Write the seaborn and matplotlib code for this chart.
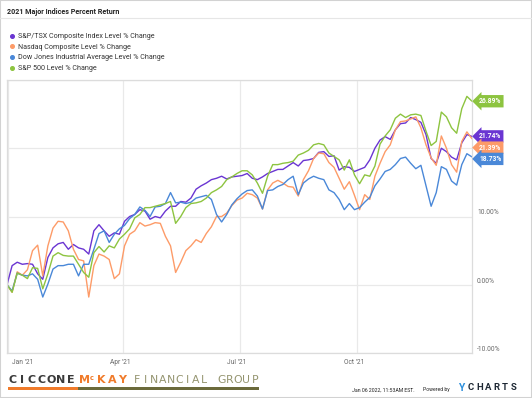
import matplotlib.pyplot as plt
import matplotlib.transforms as mtransforms
import numpy as np
import pandas as pd
import seaborn as sns
from matplotlib.lines import Line2D
from matplotlib.patches import Rectangle

# one reading every 4 days, Dec 31 2020 -> Dec 30 2021 (92 points)
dates = pd.date_range("2020-12-31", "2021-12-30", freq="4D")

series_names = [
    "S&P/TSX Composite Index Level % Change",
    "Nasdaq Composite Level % Change",
    "Dow Jones Industrial Average Level % Change",
    "S&P 500 Level % Change",
]

tsx = [0.0, 2.8, 3.3, 3.0, 3.1, 3.0, 1.6, 0.8, 4.0, 5.4,
       6.0, 6.2, 5.2, 5.9, 5.4, 5.2, 4.5, 7.9, 8.8, 7.9,
       7.1, 7.6, 7.4, 9.3, 10.0, 10.3, 11.0, 10.8, 9.6, 10.0,
       9.8, 10.8, 11.5, 11.5, 12.2, 12.1, 12.7, 14.0, 14.5, 14.9,
       15.4, 15.6, 15.9, 15.5, 15.8, 15.9, 16.0, 16.3, 15.6, 15.4,
       15.8, 16.3, 16.6, 16.9, 16.9, 17.4, 17.9, 17.4, 18.2, 18.3,
       18.5, 19.4, 19.5, 18.8, 18.9, 16.8, 17.3, 17.2, 16.6, 16.9,
       17.2, 18.3, 20.0, 21.2, 21.7, 21.3, 22.7, 23.6, 23.7, 24.5,
       24.2, 23.8, 22.0, 18.5, 17.8, 20.0, 19.5, 18.7, 18.3, 20.8,
       22.0, 21.74]

nasdaq = [0.0, -1.1, 1.9, 1.4, 2.2, 5.0, 5.8, 1.3, 5.7, 8.3,
          9.3, 9.2, 7.9, 5.2, 3.7, 3.5, -1.8, 2.8, 4.5, 4.2,
          3.7, 0.9, 1.6, 5.7, 7.4, 7.9, 9.1, 8.6, 8.8, 9.1,
          9.0, 7.1, 5.7, 1.8, 3.3, 5.0, 5.7, 6.6, 6.2, 7.5,
          8.5, 10.0, 10.0, 10.5, 11.6, 12.4, 12.7, 13.4, 13.2, 12.7,
          11.1, 13.9, 14.9, 15.3, 14.9, 14.4, 14.3, 13.0, 15.4, 16.7,
          18.5, 19.3, 19.2, 17.9, 17.2, 15.6, 14.0, 15.1, 13.1, 11.0,
          13.2, 12.5, 15.9, 17.8, 19.5, 20.5, 22.7, 23.9, 24.0, 24.3,
          24.6, 23.0, 20.5, 18.6, 17.5, 21.8, 20.0, 17.6, 16.5, 21.0,
          22.4, 21.39]

dow = [0.0, -0.9, 1.7, 1.4, 1.3, 1.6, 0.8, -1.8, 0.1, 2.3,
       2.8, 2.8, 3.0, 3.0, 1.3, 3.0, 3.0, 5.2, 7.5, 7.9,
       6.2, 7.4, 8.2, 8.7, 9.7, 10.3, 11.4, 10.9, 10.0, 11.4,
       11.5, 11.9, 13.5, 12.0, 12.1, 11.9, 12.1, 12.7, 12.9, 13.1,
       12.5, 10.3, 9.2, 10.3, 11.7, 12.6, 13.3, 13.8, 13.9, 13.0,
       11.1, 13.8, 13.9, 14.4, 14.7, 15.4, 15.9, 13.2, 14.9, 15.5,
       15.9, 15.6, 15.4, 13.9, 13.5, 12.5, 11.0, 11.9, 11.0, 11.3,
       12.1, 12.8, 14.5, 15.5, 16.6, 16.9, 17.6, 18.5, 18.7, 17.8,
       17.0, 17.5, 14.5, 11.5, 13.5, 17.3, 16.9, 15.2, 14.6, 17.6,
       19.2, 18.73]

sp500 = [0.0, -1.1, 1.7, 1.4, 0.9, 2.5, 2.4, -0.6, 1.6, 4.2,
         4.7, 4.3, 4.2, 4.2, 3.0, 1.8, 1.1, 4.7, 5.6, 4.8,
         5.7, 5.4, 6.7, 7.4, 8.2, 9.8, 10.3, 11.3, 11.3, 11.5,
         11.7, 11.9, 12.2, 9.0, 10.0, 11.3, 11.9, 12.0, 12.2, 12.7,
         13.5, 13.9, 14.4, 15.4, 15.8, 16.3, 16.7, 16.7, 16.1, 14.9,
         13.4, 15.9, 17.6, 17.6, 17.8, 17.9, 18.1, 19.0, 19.3, 19.7,
         20.5, 20.7, 20.5, 19.3, 18.8, 18.3, 16.8, 18.3, 16.1, 14.8,
         16.1, 15.9, 17.4, 20.6, 21.8, 22.7, 24.4, 25.0, 24.5, 24.9,
         25.0, 24.8, 22.5, 20.4, 21.0, 25.3, 24.6, 23.0, 22.2, 25.8,
         27.6, 26.89]

colors = ["#6a35d2", "#fd9b68", "#4a88d8", "#8dc440"]
month_ticks = pd.to_datetime(["2021-01-01", "2021-04-01", "2021-07-01", "2021-10-01"])
month_labels = ["Jan '21", "Apr '21", "Jul '21", "Oct '21"]
y_gridlines = [-10, 0, 10, 20, 30]
y_labels = [-10, 0, 10]

df = pd.DataFrame({
    "date": np.tile(dates, 4),
    "value": np.concatenate([tsx, nasdaq, dow, sp500]),
    "series": np.repeat(series_names, len(dates)),
})

sns.set_style("white")
plt.rcParams["font.family"] = ["Roboto", "DejaVu Sans"]

W, H = 532, 398
fig = plt.figure(figsize=(W / 100, H / 100), dpi=100)
ax = fig.add_axes([7 / W, 45 / H, 465 / W, 273 / H])

sns.lineplot(data=df, x="date", y="value", hue="series", hue_order=series_names,
             palette=colors, linewidth=1.0, legend=False, ax=ax)

ax.set_xlim(dates[0], dates[-1])
ax.set_ylim(-10, 30)
ax.set_xticks(month_ticks)
ax.set_yticks(y_gridlines)
ax.tick_params(length=0, labelbottom=False, labelleft=False)
ax.grid(color="#e9e9e9", linewidth=0.9)
ax.set_xlabel("")
ax.set_ylabel("")
for sp in ax.spines.values():
    sp.set_color("#dcdcdc")
    sp.set_linewidth(0.9)


def px_offset(dx, dy):
    return mtransforms.ScaledTranslation(dx / 100, dy / 100, fig.dpi_scale_trans)


# x labels
xt = ax.get_xaxis_transform()
for i, (d, lab) in enumerate(zip(month_ticks, month_labels)):
    dx = 4 if i == 0 else -3
    ax.text(d, 0, lab, transform=xt + px_offset(dx, -9), ha="left" if i == 0 else "center",
            va="center", fontsize=4.8, color="#666666")

# y labels on the right
yt = ax.get_yaxis_transform()
for v in y_labels:
    ax.text(1, v, f"{v:.2f}%", transform=yt + px_offset(5, 3.5), ha="left", va="center",
            fontsize=4.8, color="#666666")

# end-value tags, pushed apart when they collide
last = [s[-1] for s in (tsx, nasdaq, dow, sp500)]
order = np.argsort(last)[::-1]
prev = None
for i in order:
    ytag = last[i] if prev is None else min(last[i], prev - 1.65)
    prev = ytag
    ax.annotate(f"{last[i]:.2f}%", xy=(1, ytag), xycoords=yt, xytext=(7, 0),
                textcoords="offset pixels", ha="left", va="center", color="white",
                fontsize=4.9, fontweight="bold", annotation_clip=False,
                bbox=dict(boxstyle="larrow,pad=0.32", fc=colors[i], ec="none"))

# title and legend
fig.text(7 / W, 1 - 12 / H, "2021 Major Indices Percent Return", fontsize=5.1,
         fontweight="bold", color="#222222", va="center")
fig.add_artist(Line2D([0, 1], [1 - 18 / H, 1 - 18 / H], color="#e6e6e6", lw=0.8))
handles = [Line2D([], [], marker="o", ls="", color=c, markersize=2.6) for c in colors]
fig.legend(handles, series_names, loc="upper left", bbox_to_anchor=(5 / W, 1 - 29.5 / H),
           frameon=False, fontsize=5.1, handletextpad=0.2, labelspacing=0.52,
           handlelength=1.1, borderpad=0, labelcolor="#333333")

# footer logo
def spaced(x0, y, text, step, **kw):
    for j, ch in enumerate(text):
        fig.text((x0 + step * (j + 0.5)) / W, 1 - y / H, ch, ha="center", va="center", **kw)


spaced(8, 380, "CICCONE", 9.6, fontsize=8.0, fontweight="bold", color="#3a3a3a",
       family="DejaVu Sans")
spaced(80, 380, "M", 10, fontsize=8.0, fontweight="bold", color="#f07b2b", family="DejaVu Sans")
fig.text(92 / W, 1 - 377.5 / H, "c", ha="center", va="center", fontsize=4.8,
         fontweight="bold", color="#f07b2b", family="DejaVu Sans")
spaced(96, 380, "KAY", 10.5, fontsize=8.0, fontweight="bold", color="#f07b2b",
       family="DejaVu Sans")
spaced(133, 380, "FINANCIAL GROUP", 8.4, fontsize=7.8, color="#94946f", family="DejaVu Sans")
fig.add_artist(Rectangle((8 / W, 1 - 390 / H), 70 / W, 3 / H, transform=fig.transFigure,
                         color="#f07b2b", lw=0))
fig.add_artist(Rectangle((78 / W, 1 - 390 / H), 181 / W, 3 / H, transform=fig.transFigure,
                         color="#6b6a3b", lw=0))

fig.text(352 / W, 1 - 390 / H, "Jan 06 2022, 11:53AM EST.", fontsize=3.7, color="#222222",
         va="center")
fig.text(423 / W, 1 - 390 / H, "Powered by", fontsize=3.7, color="#222222", va="center")
fig.text(461 / W, 1 - 388 / H, "Y", fontsize=7.5, fontweight="bold", color="#2d8fdc",
         ha="center", va="center")
spaced(467, 388, "CHARTS", 8.4, fontsize=6.8, fontweight="bold", color="#1d2733")

fig.add_artist(Rectangle((0, 0), 1, 1, transform=fig.transFigure, fill=False,
                         ec="#d2d2d2", lw=1.5))

fig.savefig("out.png", dpi=100)
